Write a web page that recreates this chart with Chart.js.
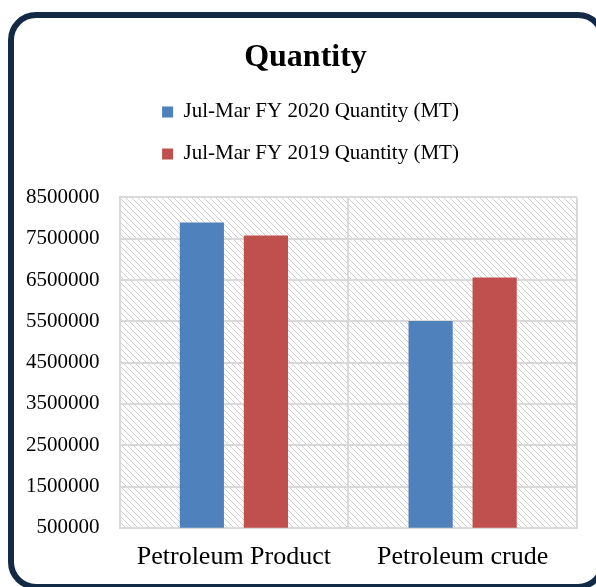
<!DOCTYPE html>
<html>
<head>
<meta charset="utf-8">
<script src="https://cdn.jsdelivr.net/npm/chart.js@4.4.0/dist/chart.umd.min.js"></script>
<style>
  html, body { margin: 0; padding: 0; background: #fff; overflow: hidden; }
  #frame {
    position: absolute; left: 8px; top: 12px; width: 598px; height: 578px;
    border: 6px solid #132a47; border-radius: 28px; box-sizing: border-box;
  }
  #wrap { position: absolute; left: 0; top: 0; width: 596px; height: 587px; }
</style>
</head>
<body>
<div id="frame"></div>
<div id="wrap"><canvas id="chart"></canvas></div>
<script>
var categories = ["Petroleum Product", "Petroleum crude"];
var seriesNames = ["Jul-Mar FY 2020 Quantity (MT)", "Jul-Mar FY 2019 Quantity (MT)"];
var fy2020 = [7890000, 5510000];
var fy2019 = [7580000, 6560000];
var colors = ["#4f81bd", "#c0504d"];

function hatch() {
  var c = document.createElement("canvas");
  c.width = 6; c.height = 6;
  var g = c.getContext("2d");
  g.fillStyle = "#fff";
  g.fillRect(0, 0, 6, 6);
  g.strokeStyle = "#cfcfcf";
  g.lineWidth = 1;
  g.beginPath();
  g.moveTo(-1, -1); g.lineTo(7, 7);
  g.moveTo(-1, 5); g.lineTo(1, 7);
  g.moveTo(5, -1); g.lineTo(7, 1);
  g.stroke();
  return c;
}

var plotBg = {
  id: "plotBg",
  beforeDraw: function (chart) {
    var a = chart.chartArea, ctx = chart.ctx;
    ctx.save();
    ctx.fillStyle = ctx.createPattern(hatch(), "repeat");
    ctx.fillRect(a.left, a.top, a.right - a.left, a.bottom - a.top);
    ctx.restore();
  }
};

// title and legend sit a little right of the canvas centre
var nudge = {
  id: "nudge",
  afterLayout: function (chart) {
    if (chart.titleBlock) { chart.titleBlock.left += 14; chart.titleBlock.right += 14; }
    if (chart.legend) { chart.legend.left += 19; chart.legend.right += 19; }
  }
};

Chart.defaults.font.family = "'Liberation Serif', 'Times New Roman', serif";
Chart.defaults.color = "#000";

new Chart(document.getElementById("chart"), {
  type: "bar",
  data: {
    labels: categories,
    datasets: [
      { label: seriesNames[0], data: fy2020, backgroundColor: colors[0] },
      { label: seriesNames[1], data: fy2019, backgroundColor: colors[1] }
    ]
  },
  plugins: [plotBg, nudge],
  options: {
    responsive: true,
    maintainAspectRatio: false,
    animation: false,
    layout: { padding: { left: 6, right: 19, top: 36, bottom: 0 } },
    categoryPercentage: 0.56,
    barPercentage: 0.69,
    plugins: {
      title: {
        display: true, text: "Quantity",
        font: { size: 32, weight: "bold" },
        padding: { top: 3, bottom: 3 }
      },
      legend: {
        position: "top",
        weight: 1800,
        maxWidth: 340,
        labels: {
          boxWidth: 11, boxHeight: 11, padding: 21,
          font: { size: 21 }
        }
      },
      // empty subtitle used as a spacer between legend and plot
      subtitle: {
        display: true, text: "",
        font: { size: 10, lineHeight: 1 },
        padding: { top: 13, bottom: 0 }
      },
      tooltip: { enabled: false }
    },
    scales: {
      x: {
        grid: { color: "#d9d9d9", lineWidth: 2, drawTicks: false },
        border: { color: "#d9d9d9", width: 2 },
        ticks: { font: { size: 26 }, padding: 14 }
      },
      y: {
        min: 500000, max: 8500000,
        grid: { color: "#d9d9d9", lineWidth: 2, drawTicks: false },
        border: { color: "#d9d9d9", width: 2 },
        ticks: { stepSize: 1000000, font: { size: 21 }, padding: 20,
          callback: function (v) { return String(v); } }
      }
    }
  }
});
</script>
</body>
</html>
